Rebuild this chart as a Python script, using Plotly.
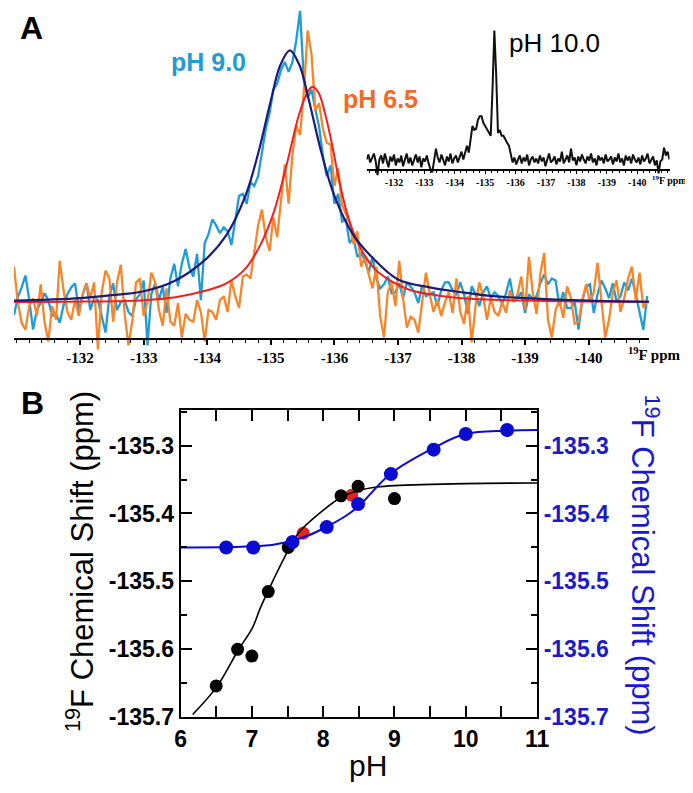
import plotly.graph_objects as go

W, H = 693, 793
def px(x):
    return x / W
def py(y):
    return 1 - y / H

SANS = "Liberation Sans, Arial, Helvetica, sans-serif"
SERIF = "Liberation Serif, Times New Roman, serif"

# ---------------- Panel A: main spectra (pH 9.0 / pH 6.5) ----------------
MAIN_PPM_START = -130.96
MAIN_PPM_STEP = -0.06
ph90_intensity = [
    -13, 5, 15, 27, 2, -28, -8, -1, 9, 2,
    -14, -12, -21, -3, 8, 15, 19, -8, 8, 19,
    -8, 4, 2, -14, -31, 6, 19, -8, 0, 2,
    -10, -14, 3, 8, 22, -44, 8, 19, 2, 16,
    -11, 24, 39, 16, 39, 54, 35, 26, 49, 2,
    60, 69, 84, 78, 70, 76, 72, 58, 85, 108,
    110, 100, 122, 118, 128, 150, 176, 192, 216, 222,
    236, 244, 234, 244, 266, 296, 225, 208, 216, 196,
    178, 148, 128, 139, 100, 110, 82, 84, 60, 66,
    46, 50, 42, 30, 46, 24, 14, 18, 26, 9,
    10, 19, 4, 20, 16, 10, -1, 17, 6, 8,
    10, -4, 12, 20, 20, 12, 7, 20, 8, -12,
    16, 8, -4, 10, 16, 4, 10, 6, -2, 9,
    24, 2, 4, 10, -11, 8, 3, 6, 19, 28,
    18, 24, 22, -4, 10, -6, -6, 0, -28, 2,
    16, 18, -11, 8, 22, 14, 4, 19, 0, 6,
    20, 12, 24, 8, -10, -28, 6,
]
ph65_intensity = [
    36, 0, -21, -28, -4, 4, -14, 18, -20, -40,
    -4, -18, 42, 12, -10, -18, 2, -14, 8, 19,
    4, 20, -48, 10, 32, 24, -20, 20, 38, -12,
    -44, -20, 20, 24, -14, 0, 30, 20, -8, -24,
    14, -20, -24, -1, -36, -12, -18, -20, 2, -10,
    -40, -8, -10, -18, 2, 6, -10, 22, 6, -6,
    26, 28, 24, 52, 78, 94, 66, 52, 86, 66,
    102, 140, 100, 150, 179, 170, 215, 276, 252, 195,
    202, 176, 162, 160, 118, 136, 99, 90, 80, 59,
    72, 36, 46, 28, 14, 36, -14, -36, 10, 20,
    -4, 42, 4, -26, -15, -18, -31, 0, 30, 8,
    -10, 2, -14, 0, 10, -11, 24, -10, -22, 6,
    -41, -4, 20, 6, -18, 4, -10, -14, 0, -11,
    12, 0, 8, 26, -8, 46, 10, -12, 29, 50,
    -18, -36, -8, 2, -16, 16, 4, -22, -20, 2,
    18, 0, 10, 40, 2, -36, -18, 10, 22, -10,
    4, 24, 36, 2, 30, -6, 2,
]
main_ppm = [round(MAIN_PPM_START + MAIN_PPM_STEP * i, 3) for i in range(len(ph90_intensity))]

fit90_ppm = [-130.96, -131.5, -132, -132.5, -133, -133.5, -134, -134.3, -134.6, -134.8,
             -135.0, -135.15, -135.3, -135.45, -135.6, -135.8, -136.0, -136.3, -136.6,
             -137.0, -137.5, -138, -138.5, -139, -140, -140.95]
fit90_int = [1.5, 2.5, 4, 7, 11, 22, 45, 68, 108, 151,
             205, 241, 256, 241, 205, 151, 108, 68, 45,
             23, 15, 10, 6, 4, 1.5, 0.5]
fit65_ppm = [-130.96, -132, -133, -133.5, -134.0, -134.3, -134.6, -134.85, -135.05, -135.25,
             -135.45, -135.59, -135.66, -135.75, -135.86, -135.97, -136.06, -136.21, -136.37,
             -136.63, -136.9, -137.2, -137.6, -138, -139, -140, -140.95]
fit65_int = [0, 0.5, 2, 5, 12, 19, 34, 60, 92, 140,
             192, 215, 219, 213, 190, 158, 128, 88, 60,
             34, 21, 12, 7, 4, 1.5, 0.5, 0]

# ---------------- Panel A inset: pH 10.0 ----------------
INSET_PPM_START = -131.1
INSET_PPM_STEP = -0.06
ph100_intensity = [
    6, 11, 3,
    8, 12, 4, -10, 6, 10, 2, 12, 5, -2,
    9, 4, 11, 0, 7, 3, 10, -1, 6, 12,
    2, 8, 0, 5, 11, 3, 9, -2, 7, 4,
    10, 2, -4, -7, 6, 17, 8, 3, 11, 5,
    0, 9, 4, 12, 2, 7, 10, 3, 8, 14,
    6, 13, 20, 13, 28, 40, 36, 37, 46, 50,
    50, 43, 40, 37, 33, 30, 77, 137, 93, 33,
    36, 30, 30, 26, 23, 20, 10, 3, 8, 1,
    6, 10, 2, 8, 4, 11, 0, 6, 9, 3,
    7, 2, 10, 4, 8, -1, 6, 12, 3, 5,
    9, 1, 7, 4, 14, 2, 6, 10, 3, 17,
    5, 8, 0, 9, 4, 11, 6, 2, 9, 5,
    12, 3, 7, 0, 10, 5, 8, 2, 11, 4,
    6, 9, 1, 8, 4, 12, 3, 7, 0, 10,
    5, 9, 2, 11, 6, 3, 8, 1, 10, 4,
    7, 12, 2, 6, 9, 0, 5, -8, 4, 6,
    18, 10,
    14, 6,
]
inset_ppm = [round(INSET_PPM_START + INSET_PPM_STEP * i, 3) for i in range(len(ph100_intensity))]

spec_tickvals = [-132, -133, -134, -135, -136, -137, -138, -139, -140]
spec_ticktext = ["-132", "-133", "-134", "-135", "-136", "-137", "-138", "-139", "-140"]

# ---------------- Panel B: titration ----------------
black_ph = [6.5, 6.8, 7.0, 7.23, 7.51, 8.25, 8.49, 9.0]
black_shift = [-135.654, -135.600, -135.610, -135.515, -135.450, -135.374, -135.360, -135.378]
red_ph = [7.72, 8.4]
red_shift = [-135.429, -135.373]
blue_ph = [6.64, 7.02, 7.57, 8.05, 8.49, 8.95, 9.55, 10.0, 10.58]
blue_shift = [-135.450, -135.450, -135.442, -135.420, -135.386, -135.342, -135.306, -135.283, -135.277]

black_fit_ph = [6.17, 6.51, 6.81, 7.01, 7.12, 7.31, 7.52, 7.66, 7.9, 8.27, 8.5, 8.76, 9.0, 10.0, 11.0]
black_fit_shift = [-135.696, -135.655, -135.601, -135.568, -135.539, -135.496, -135.452, -135.428,
                   -135.404, -135.375, -135.366, -135.361, -135.359, -135.356, -135.355]
blue_fit_ph = [6.0, 6.85, 7.3, 7.53, 7.8, 8.04, 8.31, 8.49, 8.95, 9.54, 9.99, 10.58, 11.0]
blue_fit_shift = [-135.450, -135.449, -135.446, -135.441, -135.432, -135.420, -135.404, -135.390,
                  -135.341, -135.304, -135.283, -135.278, -135.277]

shift_tickvals = [-135.7, -135.6, -135.5, -135.4, -135.3]
shift_ticktext = ["-135.7", "-135.6", "-135.5", "-135.4", "-135.3"]
ph_tickvals = [6, 7, 8, 9, 10, 11]
ph_ticktext = ["6", "7", "8", "9", "10", "11"]

C_BLUE_SPEC = "#1f9bd7"
C_ORANGE = "#f7852a"
C_NAVY = "#1b1b78"
C_RED = "#ee2024"
C_BBLUE = "#0a0ad2"

fig = go.Figure()

# main spectra
fig.add_trace(go.Scatter(x=main_ppm, y=ph90_intensity, mode="lines",
                         line=dict(color=C_BLUE_SPEC, width=2.3), xaxis="x", yaxis="y"))
fig.add_trace(go.Scatter(x=main_ppm, y=ph65_intensity, mode="lines",
                         line=dict(color=C_ORANGE, width=2.3), xaxis="x", yaxis="y"))
fig.add_trace(go.Scatter(x=fit65_ppm, y=fit65_int, mode="lines", line_shape="spline",
                         line=dict(color=C_RED, width=2), xaxis="x", yaxis="y"))
fig.add_trace(go.Scatter(x=fit90_ppm, y=fit90_int, mode="lines", line_shape="spline",
                         line=dict(color=C_NAVY, width=2.2), xaxis="x", yaxis="y"))
# inset
fig.add_trace(go.Scatter(x=inset_ppm, y=ph100_intensity, mode="lines",
                         line=dict(color="#111111", width=2), xaxis="x2", yaxis="y2"))
# panel B
fig.add_trace(go.Scatter(x=red_ph, y=red_shift, mode="markers",
                         marker=dict(color="#e5231b", size=13), xaxis="x3", yaxis="y3"))
fig.add_trace(go.Scatter(x=black_fit_ph, y=black_fit_shift, mode="lines", line_shape="spline",
                         line=dict(color="black", width=1.6), xaxis="x3", yaxis="y3"))
fig.add_trace(go.Scatter(x=black_ph, y=black_shift, mode="markers",
                         marker=dict(color="black", size=13), xaxis="x3", yaxis="y3"))
fig.add_trace(go.Scatter(x=blue_fit_ph, y=blue_fit_shift, mode="lines", line_shape="spline",
                         line=dict(color=C_BBLUE, width=2), xaxis="x3", yaxis="y4"))
fig.add_trace(go.Scatter(x=blue_ph, y=blue_shift, mode="markers",
                         marker=dict(color=C_BBLUE, size=14), xaxis="x3", yaxis="y4"))

spec_axis_common = dict(showgrid=False, zeroline=False, showline=True, linecolor="black",
                        ticks="outside", tickcolor="black",
                        tickvals=spec_tickvals, ticktext=spec_ticktext)

fig.update_layout(
    width=W, height=H, autosize=False,
    margin=dict(l=0, r=0, t=0, b=0),
    paper_bgcolor="white", plot_bgcolor="rgba(0,0,0,0)",
    showlegend=False,
    xaxis=dict(domain=[0, px(652)], range=[-130.96, -140.95], anchor="free", position=py(337),
               linewidth=2, ticklen=5, tickwidth=1.5,
               minor=dict(dtick=0.2, tick0=-132, ticks="outside", ticklen=3, tickwidth=1, tickcolor="black"),
               tickfont=dict(family=SERIF, size=15, color="black", weight="bold"),
               **spec_axis_common),
    yaxis=dict(domain=[py(362), 1], range=[-63, 299], visible=False, anchor="x"),
    xaxis2=dict(domain=[px(362), px(673)], range=[-131.1, -141.06], anchor="free", position=py(165),
                linewidth=2, ticklen=3, tickwidth=1.2,
                minor=dict(dtick=0.2, tick0=-132, ticks="outside", ticklen=2, tickwidth=1, tickcolor="black"),
                tickfont=dict(family=SERIF, size=10, color="black", weight="bold"),
                **spec_axis_common),
    yaxis2=dict(domain=[py(172), py(15)], range=[-12, 145], visible=False, anchor="x2"),
    xaxis3=dict(domain=[px(171), px(537)], range=[6, 11], anchor="y3",
                showgrid=False, zeroline=False, showline=True, mirror="allticks",
                linecolor="black", linewidth=2,
                ticks="inside", ticklen=11, tickwidth=2, tickcolor="black",
                tickvals=ph_tickvals, ticktext=ph_ticktext,
                minor=dict(dtick=0.5, tick0=6, ticks="inside", ticklen=6, tickwidth=2, tickcolor="black"),
                tickfont=dict(family=SANS, size=23, color="black", weight="bold")),
    yaxis3=dict(domain=[py(721), py(409)], range=[-135.7, -135.248], anchor="x3",
                showgrid=False, zeroline=False, showline=True, linecolor="black", linewidth=2,
                ticks="inside", ticklen=11, tickwidth=2, tickcolor="black",
                tickvals=shift_tickvals, ticktext=shift_ticktext,
                minor=dict(dtick=0.05, tick0=-135.7, ticks="inside", ticklen=6, tickwidth=2, tickcolor="black"),
                tickfont=dict(family=SANS, size=23, color="black", weight="bold")),
    yaxis4=dict(overlaying="y3", side="right", range=[-135.7, -135.248], anchor="x3",
                showgrid=False, zeroline=False, showline=True, linecolor="black", linewidth=2,
                ticks="inside", ticklen=11, tickwidth=2, tickcolor="black",
                tickvals=shift_tickvals, ticktext=shift_ticktext,
                minor=dict(dtick=0.05, tick0=-135.7, ticks="inside", ticklen=6, tickwidth=2, tickcolor="black"),
                tickfont=dict(family=SANS, size=23, color="#1a1acc", weight="bold")),
)

def ann(text, x, y, size, color="black", family=SANS, bold=False, angle=0, xanchor="center", yanchor="middle"):
    fig.add_annotation(text=text, x=px(x), y=py(y), xref="paper", yref="paper",
                       showarrow=False, textangle=angle, xanchor=xanchor, yanchor=yanchor,
                       font=dict(family=family, size=size, color=color, weight="bold" if bold else "normal"))

ann("A", 18, 20, 32, bold=True)
ann("pH 9.0", 200, 55, 25, color=C_BLUE_SPEC, bold=True)
ann("pH 6.5", 376, 93, 25, color="#f4682a", bold=True)
ann("pH 10.0", 555, 36, 26)
ann("<sup>19</sup>F ppm", 628, 352, 15, family=SERIF, bold=True, xanchor="left")
ann("<sup>19</sup>F ppm", 653, 175, 10, family=SERIF, bold=True, xanchor="left")
ann("B", 19, 402, 32, bold=True)
ann("pH", 363, 770, 30)
ann("<sup>19</sup>F Chemical Shift (ppm)", 68, 563, 31, angle=-90)
ann("<sup>19</sup>F Chemical Shift (ppm)", 648, 566, 31, color="#1a1acc", angle=90)

fig.write_html("out.html")
